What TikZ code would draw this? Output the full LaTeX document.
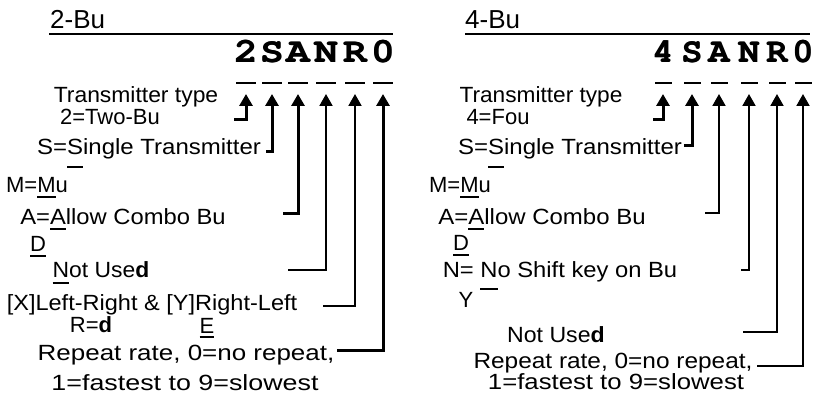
\documentclass[tikz,border=0pt]{standalone}
\usepackage[T1]{fontenc}
\usepackage{fontspec}
\setmainfont{Liberation Sans}
\usetikzlibrary{arrows.meta}
\newlength\ulwd
\newcommand\ulchar[2]{\settowidth\ulwd{#2}\makebox[0pt][l]{\rule[#1]{\ulwd}{1.8pt}}#2}
\newcommand\sx[2]{\scalebox{#1}[1]{#2}}
\newcommand\fakebold[1]{\makebox[0pt][l]{#1}\hspace{0.6pt}#1}
\tikzset{
  lbl/.style={anchor=base, inner sep=0pt, font=\fontsize{22}{22}\selectfont},
  ttl/.style={anchor=base west, inner sep=0pt, font=\fontsize{26}{26}\selectfont},
  code/.style={anchor=base, inner sep=0pt, font=\fontsize{35}{35}\usefont{T1}{pcr}{b}{n}},
  dashbar/.style={fill=black, inner sep=0pt, minimum width=#1, minimum height=2pt},
  conn/.style={-{Triangle[width=13pt,length=12pt]}, line width=3pt},
  thinconn/.style={-{Triangle[width=13pt,length=12pt]}, line width=2pt},
  rulebar/.style={line width=1.3pt},
}
\begin{document}
\begin{tikzpicture}[x=1pt,y=-1pt]
\path[use as bounding box] (0,0) rectangle (815,401);
% ---------- left panel ----------
\node[ttl] (lt) at (50,29) {2-Bu};
\coordinate (lr1) at (49,34); \coordinate (lr2) at (393,34);
\draw[rulebar] (lr1) -- (lr2);
\foreach \ch/\x [count=\i] in {2/246,S/272,A/298,N/326,R/355,0/383}{
  \node[code] (lc\i) at (\x,63) {\scalebox{1.12}[1]{\fakebold{\ch}}};
  \node[dashbar=20pt] (ld\i) at (\x,83) {};
  \coordinate (lt\i) at (\x,94);
}
\node[lbl] (la1) at (136,103) {\sx{1.04}{Transmitter type}};
\node[lbl] (la2) at (110,125) {2=Two-Bu};
\node[lbl] (la3) at (149,155) {\sx{1.09}{S=\ulchar{-13pt}{S}ingle Transmitter}};
\node[lbl] (la4) at (37,193) {M=\ulchar{-5pt}{M}u};
\node[lbl] (la5) at (123,225) {\sx{1.08}{A=\ulchar{-5pt}{A}llow Combo Bu}};
\node[lbl] (la6) at (38,252) {\ulchar{-5pt}{D}};
\node[lbl] (la7) at (101,278) {\sx{1.04}{\ulchar{-6pt}{N}ot Use\textbf{d}}};
\node[lbl] (la8) at (152,310) {\sx{1.07}{[X]Left-Right \& [Y]Right-Left}};
\node[lbl] (la9) at (91,332) {R=\textbf{d}};
\node[lbl] (la10) at (207,333) {\ulchar{-5pt}{E}};
\node[lbl] (la11) at (186,360) {\sx{1.18}{Repeat rate, 0=no repeat,}};
\node[lbl] (la12) at (185,390) {\sx{1.22}{1=fastest to 9=slowest}};
\coordinate (lh1) at (234,120);
\coordinate (lh2) at (266,152);
\coordinate (lh3) at (283,214);
\coordinate (lh4) at (288,270);
\coordinate (lh5) at (323,306);
\coordinate (lh6) at (337,350);
\draw[conn] (lh1) -| (lt1);
\draw[conn] (lh2) -| (lt2);
\draw[conn] (lh3) -| (lt3);
\draw[thinconn] (lh4) -| (lt4);
\draw[thinconn] (lh5) -| (lt5);
\draw[conn] (lh6) -| (lt6);
% ---------- right panel ----------
\node[ttl] (rt) at (465,29) {4-Bu};
\coordinate (rr1) at (465,34); \coordinate (rr2) at (810,34);
\draw[rulebar] (rr1) -- (rr2);
\foreach \ch/\x [count=\i] in {4/663,S/692,A/719,N/749,R/777,0/803}{
  \node[code] (rc\i) at (\x,63) {\scalebox{1.0}[1]{\fakebold{\ch}}};
  \node[dashbar=17pt] (rd\i) at (\x,83) {};
  \coordinate (rtp\i) at (\x,94);
}
\node[lbl] (ra1) at (541,103) {\sx{1.03}{Transmitter type}};
\node[lbl] (ra2) at (498,125) {4=Fou};
\node[lbl] (ra3) at (570,155) {\sx{1.09}{S=\ulchar{-13pt}{S}ingle Transmitter}};
\node[lbl] (ra4) at (460,193) {M=\ulchar{-5pt}{M}u};
\node[lbl] (ra5) at (542,225) {\sx{1.09}{A=\ulchar{-5pt}{A}llow Combo Bu}};
\node[lbl] (ra6) at (461,251) {\ulchar{-5pt}{D}};
\node[lbl] (ra7) at (560,277) {\sx{1.08}{N= \ulchar{-13pt}{N}o Shift key on Bu}};
\node[lbl] (ra8) at (466,308) {Y};
\node[lbl] (ra9) at (556,342) {\sx{1.05}{Not Use\textbf{d}}};
\node[lbl] (ra10) at (613,368) {\sx{1.11}{Repeat rate, 0=no repeat,}};
\node[lbl] (ra11) at (616,389) {\sx{1.17}{1=fastest to 9=slowest}};
\coordinate (rh1) at (653,120);
\coordinate (rh2) at (684,146);
\coordinate (rh3) at (705,213);
\coordinate (rh4) at (741,270);
\coordinate (rh5) at (743,332);
\coordinate (rh6) at (757,366);
\draw[conn] (rh1) -| (rtp1);
\draw[conn] (rh2) -| (rtp2);
\draw[thinconn] (rh3) -| (rtp3);
\draw[thinconn] (rh4) -| (rtp4);
\draw[thinconn] (rh5) -| (rtp5);
\draw[thinconn] (rh6) -| (rtp6);
\end{tikzpicture}
\end{document}
